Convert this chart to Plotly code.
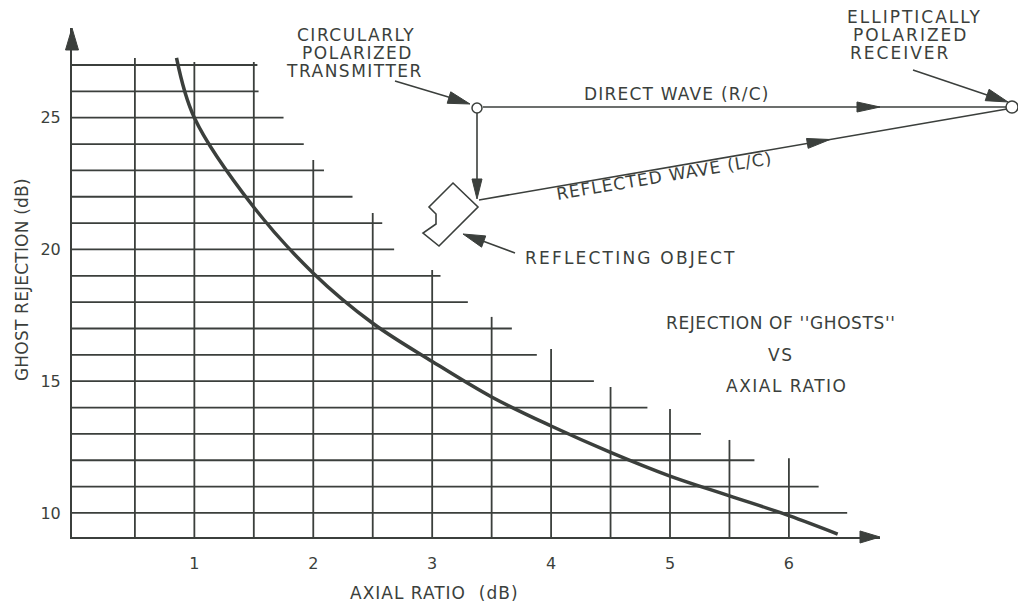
import math
import plotly.graph_objects as go

# ---- data ----
x_tick_vals = [1, 2, 3, 4, 5, 6]
y_tick_vals = [10, 15, 20, 25]

axial_ratio = [0.85, 1.0, 1.5, 2.0, 2.5, 3.0, 3.5, 4.0, 4.5, 5.0, 5.5, 6.0, 6.41]
ghost_rejection = [27.27, 25.0, 21.6, 19.1, 17.2, 15.75, 14.4, 13.3, 12.3, 11.4, 10.65, 9.9, 9.2]

# horizontal grid rules (dB level) and how far right each one runs
h_levels = [10, 11, 12, 13, 14, 15, 16, 17, 18, 19, 20, 21, 22, 23, 24, 25, 26, 27]
h_ends = [6.49, 6.25, 5.71, 5.26, 4.81, 4.36, 3.88, 3.67, 3.30, 3.07, 2.68, 2.58, 2.33, 2.09, 1.92, 1.75, 1.54, 1.53]

# vertical grid rules and how high each one runs
v_positions = [0.5, 1.0, 1.5, 2.0, 2.5, 3.0, 3.5, 4.0, 4.5, 5.0, 5.5, 6.0]
v_tops = [27.27, 27.11, 27.11, 23.39, 21.38, 19.22, 17.44, 16.22, 14.78, 13.94, 12.77, 12.08]

X_RANGE = [-0.029, 6.766]
Y_RANGE = [9.087, 28.404]

INK = '#3b3f3c'
FONT = 'DejaVu Sans'

FIG_W, FIG_H = 1018, 605
# plot area in window pixels (left, right, top, bottom)
L, R, T, B = 72, 880, 28, 537


def P(px, py):
    # window pixel position -> paper coords
    return (px - L) / (R - L), (B - py) / (B - T)


def poly_path(points):
    pts = [P(*p) for p in points]
    return 'M ' + ' L '.join(f'{x:.5f},{y:.5f}' for x, y in pts) + ' Z'


def head(tip, tail, length=22, half=5.5):
    dx, dy = tip[0] - tail[0], tip[1] - tail[1]
    n = math.hypot(dx, dy)
    ux, uy = dx / n, dy / n
    bx, by = tip[0] - ux * length, tip[1] - uy * length
    return dict(type='path', xref='paper', yref='paper', path=poly_path([
        tip, (bx - uy * half, by + ux * half), (bx + uy * half, by - ux * half)]),
        fillcolor=INK, line=dict(color=INK, width=1))


def seg(p0, p1, width=1.6):
    x0, y0 = P(*p0)
    x1, y1 = P(*p1)
    return dict(type='line', xref='paper', yref='paper', x0=x0, y0=y0, x1=x1, y1=y1,
                line=dict(color=INK, width=width))


def circle(cx, cy, r):
    x0, y0 = P(cx - r, cy + r)
    x1, y1 = P(cx + r, cy - r)
    return dict(type='circle', xref='paper', yref='paper', x0=x0, y0=y0, x1=x1, y1=y1,
                fillcolor='white', line=dict(color=INK, width=1.5))


def label(text, px, py, anchor='center', angle=0, size=17, spacing=1.5):
    x, y = P(px, py)
    if spacing:
        text = f'<span style="letter-spacing:{spacing}px">{text}</span>'
    return dict(text=text, x=x, y=y, xref='paper', yref='paper', xanchor=anchor, yanchor='middle',
                showarrow=False, textangle=angle, font=dict(family=FONT, size=size, color=INK))


# grid as one broken line trace
gx, gy = [], []
for lvl, end in zip(h_levels, h_ends):
    gx += [X_RANGE[0], end, None]
    gy += [lvl, lvl, None]
for pos, top in zip(v_positions, v_tops):
    gx += [pos, pos, None]
    gy += [Y_RANGE[0], top, None]

fig = go.Figure()
fig.add_trace(go.Scatter(x=gx, y=gy, mode='lines', line=dict(color=INK, width=1.8),
                         hoverinfo='skip', showlegend=False))
fig.add_trace(go.Scatter(x=axial_ratio, y=ghost_rejection, mode='lines',
                         line=dict(color=INK, width=3.5, shape='spline', smoothing=1.0),
                         showlegend=False))

# reflected wave path
refl_start, refl_end = (479, 200), (1007, 109)
t_head = (830 - refl_start[0]) / (refl_end[0] - refl_start[0])
refl_tip = (830, refl_start[1] + t_head * (refl_end[1] - refl_start[1]))

shapes = [
    # axis arrowheads
    head((72, 28), (72, 60), length=22, half=6.5),
    head((880, 537), (840, 537), length=20, half=6),
    # direct wave
    seg((483, 107), (1007, 107)),
    head((880, 107), (840, 107), length=23, half=5),
    # transmitter down to object
    seg((477, 113), (477, 190)),
    head((477, 199), (477, 150), length=20, half=5),
    # reflected wave
    seg(refl_start, refl_end),
    head(refl_tip, refl_start, length=23, half=5),
    # label pointers
    seg((395, 81), (455, 99), width=1.5),
    head((470, 104), (395, 81), length=22, half=6),
    seg((913, 70), (990, 96), width=1.5),
    head((1008, 102), (913, 70), length=22, half=6),
    seg((515, 253), (480, 240), width=1.5),
    head((463, 234), (515, 253), length=22, half=6),
    # reflecting object
    dict(type='path', xref='paper', yref='paper',
         path=poly_path([(453, 183), (478, 207), (439, 246), (423, 233), (436, 224),
                         (436, 214), (429, 207)]),
         fillcolor='white', line=dict(color=INK, width=1.6)),
    circle(477, 108, 5),
    circle(1012, 107, 6),
]

annotations = [
    label('CIRCULARLY', 356, 35),
    label('POLARIZED', 357, 53),
    label('TRANSMITTER', 354, 71),
    label('ELLIPTICALLY', 914, 17, spacing=2),
    label('POLARIZED', 910, 35, spacing=2),
    label('RECEIVER', 900, 53, spacing=2),
    label('DIRECT WAVE (R/C)', 582, 94, anchor='left', spacing=1.2),
    label('REFLECTED WAVE (L/C)', 664, 176, angle=-9.5, spacing=1),
    label('REFLECTING OBJECT', 523, 258, anchor='left', spacing=2.2),
    label("REJECTION OF ''GHOSTS''", 780, 323, spacing=0.6),
    label('VS', 780, 355),
    label('AXIAL RATIO', 787, 386),
    label('AXIAL RATIO  (dB)', 348, 593, anchor='left', spacing=1),
    label('GHOST REJECTION (dB)', 22, 280, angle=-90, size=17, spacing=0.2),
]

fig.update_layout(
    width=FIG_W,
    height=FIG_H,
    paper_bgcolor='white',
    plot_bgcolor='white',
    margin=dict(l=L, r=FIG_W - R, t=T, b=FIG_H - B),
    xaxis=dict(range=X_RANGE, showgrid=False, zeroline=False, showline=True,
               linecolor=INK, linewidth=2, ticks='', tickvals=x_tick_vals,
               ticktext=[str(v) for v in x_tick_vals], ticklabelstandoff=11,
               tickfont=dict(family=FONT, size=16, color=INK)),
    yaxis=dict(range=Y_RANGE, showgrid=False, zeroline=False, showline=True,
               linecolor=INK, linewidth=2, ticks='', tickvals=y_tick_vals,
               ticktext=[str(v) for v in y_tick_vals], ticklabelstandoff=6,
               tickfont=dict(family=FONT, size=16, color=INK)),
    shapes=shapes,
    annotations=annotations,
    showlegend=False,
)

# drop the page's default body margin so the figure fills the window exactly
fig.write_html('out.html', config={'displayModeBar': False},
               post_script="document.body.style.margin='0';")
